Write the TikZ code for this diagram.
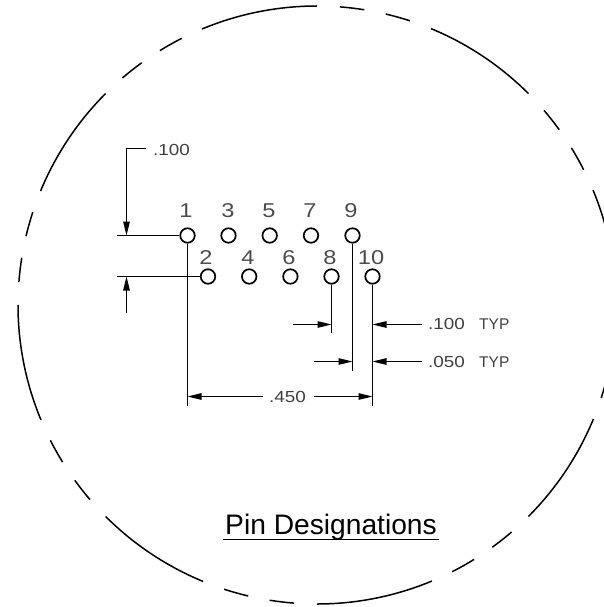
\documentclass[tikz,border=0pt]{standalone}
\usepackage{fontspec}
\setmainfont{Liberation Sans}
\newfontfamily\widefont[FakeStretch=1.18]{Liberation Sans}
\usetikzlibrary{arrows.meta}
\tikzset{
  x=1pt,y=-1pt,
  pin/.style={circle,draw=black,line width=1.7pt,minimum size=14.5pt,inner sep=0pt,fill=white},
  pinlabel/.style={font=\widefont\fontsize{20}{20}\selectfont,text=black!70,inner sep=0pt,anchor=base},
  dimlabel/.style={font=\widefont\fontsize{16}{16}\selectfont,text=black!75,inner sep=0pt,anchor=base west},
  typlabel/.style={font=\fontsize{15.5}{16}\selectfont,text=black!75,inner sep=0pt,anchor=base west},
  titlelabel/.style={font=\fontsize{28.2}{28}\selectfont,text=black,inner sep=0pt,anchor=base west},
  dimline/.style={line width=1.2pt,black},
  dimarrow/.style={dimline,-{Triangle[length=14pt,width=6.5pt]}},
  outline/.style={line width=1.5pt,black}
}
\begin{document}
\begin{tikzpicture}
\useasboundingbox (0,0) rectangle (604,607);
\clip (0,0) rectangle (604,607);
\fill[white] (0,0) rectangle (604,607);
% dashed circle
\coordinate (centre) at (317,305);
\foreach \k in {0,...,7}{
  \pgfmathsetmacro{\b}{45*\k}
  \draw[outline,shift={(centre)},x=1pt,y=1pt] (\b+22.6:299pt) arc[start angle=\b+22.6,end angle=\b,radius=299pt];
  \draw[outline,shift={(centre)},x=1pt,y=1pt] (\b-4.4:299pt) arc[start angle=\b-4.4,end angle=\b-9.1,radius=299pt];
  \draw[outline,shift={(centre)},x=1pt,y=1pt] (\b-13.3:299pt) arc[start angle=\b-13.3,end angle=\b-18.1,radius=299pt];
}
% free ends
\coordinate (e1) at (117.3,235.5);
\coordinate (e2) at (117.3,276.5);
\coordinate (v1) at (187.5,405.7);
\coordinate (v8) at (331.5,333.3);
\coordinate (v9) at (352.5,370.7);
\coordinate (v10) at (372.5,405.7);
\coordinate (la) at (145.7,148.5);
\coordinate (lb) at (126.5,148.5);
\coordinate (lc) at (126.5,235.5);
\coordinate (ld) at (126.5,313.3);
\coordinate (le) at (126.5,276.5);
\coordinate (a1s) at (293.3,324.5);
\coordinate (a1e) at (331.5,324.5);
\coordinate (a2s) at (421.7,324.5);
\coordinate (a2e) at (372.5,324.5);
\coordinate (a3s) at (314.3,361.5);
\coordinate (a3e) at (352.5,361.5);
\coordinate (a4s) at (421.7,361.5);
\coordinate (a4e) at (372.5,361.5);
\coordinate (a5s) at (263.3,396.5);
\coordinate (a5e) at (187.5,396.5);
\coordinate (a6s) at (314.3,396.5);
\coordinate (a6e) at (372.5,396.5);
% pins
\node[pin] (p1) at (187.5,235.5) {};
\node[pin] (p3) at (228.5,235.5) {};
\node[pin] (p5) at (269.7,235.5) {};
\node[pin] (p7) at (311,235.5) {};
\node[pin] (p9) at (352.5,235.5) {};
\node[pin] (p2) at (208,276.5) {};
\node[pin] (p4) at (249.2,276.5) {};
\node[pin] (p6) at (290.4,276.5) {};
\node[pin] (p8) at (331.5,276.5) {};
\node[pin] (p10) at (372.5,276.5) {};
% extension lines
\draw[dimline] (e1) -- (p1.west);
\draw[dimline] (e2) -- (p2.west);
\draw[dimline] (p1.south) -- (v1);
\draw[dimline] (p8.south) -- (v8);
\draw[dimline] (p9.south) -- (v9);
\draw[dimline] (p10.south) -- (v10);
% dimension arrows
\draw[dimarrow] (la) -- (lb) -- (lc);
\draw[dimarrow] (ld) -- (le);
\draw[dimarrow] (a1s) -- (a1e);
\draw[dimarrow] (a2s) -- (a2e);
\draw[dimarrow] (a3s) -- (a3e);
\draw[dimarrow] (a4s) -- (a4e);
\draw[dimarrow] (a5s) -- (a5e);
\draw[dimarrow] (a6s) -- (a6e);
% pin labels
\node[pinlabel] (l1) at (186,217.5) {1};
\node[pinlabel] (l3) at (228,217.5) {3};
\node[pinlabel] (l5) at (269,217.5) {5};
\node[pinlabel] (l7) at (310,217.5) {7};
\node[pinlabel] (l9) at (351,217.5) {9};
\node[pinlabel] (l2) at (206,264) {2};
\node[pinlabel] (l4) at (248,264) {4};
\node[pinlabel] (l6) at (289,264) {6};
\node[pinlabel] (l8) at (330,264) {8};
\node[pinlabel] (l10) at (371,264) {10};
% dimension labels
\node[dimlabel] (d1) at (153,155) {.100};
\node[dimlabel] (d2) at (428,329.5) {.100};
\node[typlabel] (d2t) at (479,329.5) {TYP};
\node[dimlabel] (d3) at (428,367) {.050};
\node[typlabel] (d3t) at (479,367) {TYP};
\node[dimlabel] (d4) at (269,402) {.450};
% title
\node[titlelabel] (title) at (225,534) {Pin Designations};
\coordinate (ua) at (223,539.7);
\coordinate (ub) at (439,539.7);
\draw[line width=1.4pt] (ua) -- (ub);
\end{tikzpicture}
\end{document}
